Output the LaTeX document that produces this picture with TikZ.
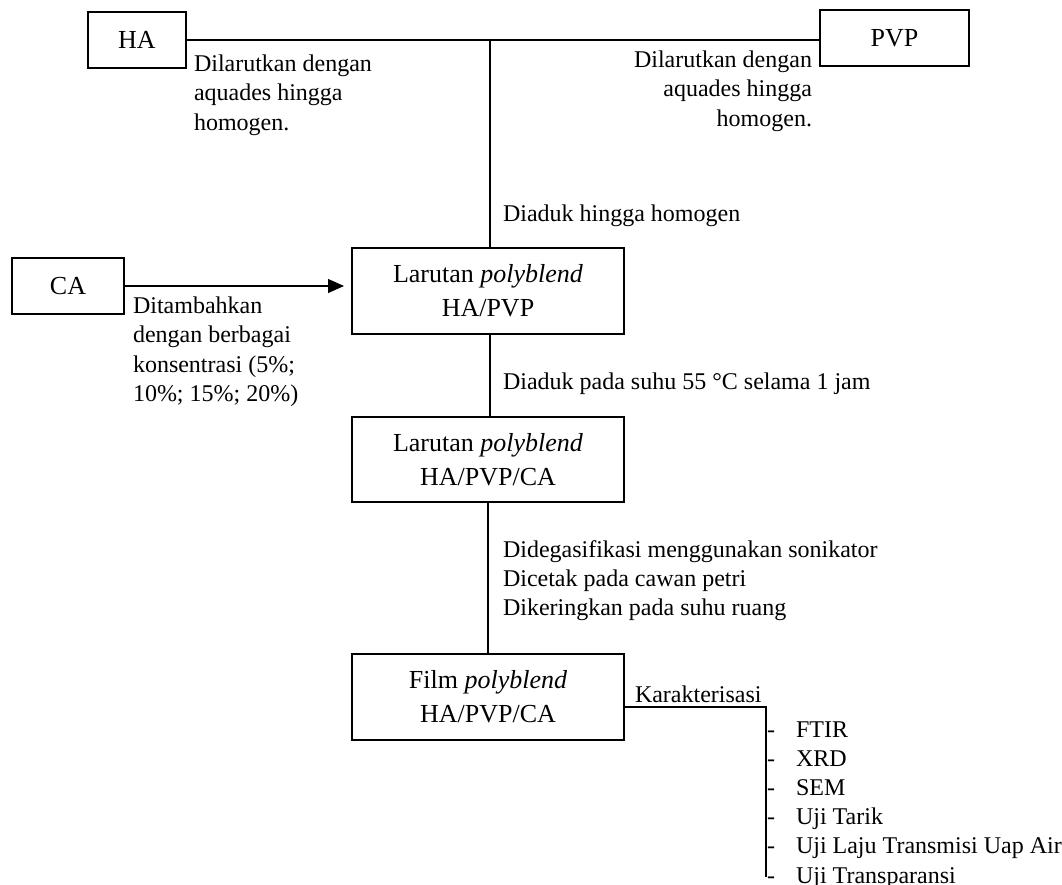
\documentclass[tikz,border=0pt]{standalone}
\usepackage{fontspec}
\setmainfont{Liberation Serif}
\usetikzlibrary{arrows.meta}
\newcommand{\txtlines}[2][l]{\begin{tabular}[t]{@{}#1@{}}#2\end{tabular}}
\newcommand{\dashitem}{\makebox[29bp][l]{-}}
\begin{document}
\begin{tikzpicture}[x=1bp,y=-1bp,
  every node/.style={font=\fontsize{24bp}{29.5bp}\selectfont, inner sep=0pt, outer sep=0pt},
  box/.style={draw, line width=1.1bp, align=center, font=\fontsize{26bp}{34bp}\selectfont},
  conn/.style={line width=1.1bp},
  lbl/.style={anchor=base west},
  lblr/.style={anchor=base east}]
\useasboundingbox (0,0) rectangle (1062,885);

% boxes
\node[box, minimum width=98bp, minimum height=56bp] (ha) at (137,40) {HA};
\node[box, minimum width=149bp, minimum height=56bp] (pvp) at (894.5,38) {PVP};
\node[box, minimum width=112bp, minimum height=56bp] (ca) at (68,286) {CA};
\node[box, minimum width=272bp, minimum height=86bp] (box1) at (488,291) {Larutan \textit{polyblend}\\HA/PVP};
\node[box, minimum width=272bp, minimum height=85bp] (box2) at (488,459.5) {Larutan \textit{polyblend}\\HA/PVP/CA};
\node[box, minimum width=272bp, minimum height=86bp] (film) at (488,697) {Film \textit{polyblend}\\HA/PVP/CA};

% coordinates
\coordinate (junc) at (490,40);
\coordinate (arrowend) at (344,286);
\coordinate (kturn) at (766,707);
\coordinate (kend) at (766,877);

% connectors
\draw[conn] (ha.east) -- (pvp.west |- ha.east);
\draw[conn] (junc) -- (junc |- box1.north);
\draw[conn, -{Triangle[length=16bp,width=14bp]}] (ca.east) -- (arrowend);
\draw[conn] (box1.south -| junc) -- (box2.north -| junc);
\draw[conn] (box2.south) -- (film.north);
\draw[conn] (film.east |- kturn) -- (kturn) -- (kend);

% labels
\node[lbl] (halbl) at (194,71) {\txtlines{Dilarutkan dengan\\aquades hingga\\homogen.}};
\node[lblr] (pvplbl) at (812,67) {\txtlines[r]{Dilarutkan dengan\\aquades hingga\\homogen.}};
\node[lbl] (aduk1) at (503,221) {Diaduk hingga homogen};
\node[lbl] (calbl) at (133,313) {\txtlines{Ditambahkan\\dengan berbagai\\konsentrasi (5\%;\\10\%; 15\%; 20\%)}};
\node[lbl] (aduk2) at (503,389) {Diaduk pada suhu 55 °C selama 1 jam};
\node[lbl, font=\fontsize{24bp}{29bp}\selectfont] (degas) at (503,557) {\txtlines{Didegasifikasi menggunakan sonikator\\Dicetak pada cawan petri\\Dikeringkan pada suhu ruang}};
\node[lbl] (karak) at (635,702) {Karakterisasi};
\node[lbl, font=\fontsize{24bp}{29.2bp}\selectfont] (list) at (767,737) {\txtlines{%
\dashitem FTIR\\
\dashitem XRD\\
\dashitem SEM\\
\dashitem Uji Tarik\\
\dashitem Uji Laju Transmisi Uap Air\\
\dashitem Uji Transparansi}};
\end{tikzpicture}
\end{document}
